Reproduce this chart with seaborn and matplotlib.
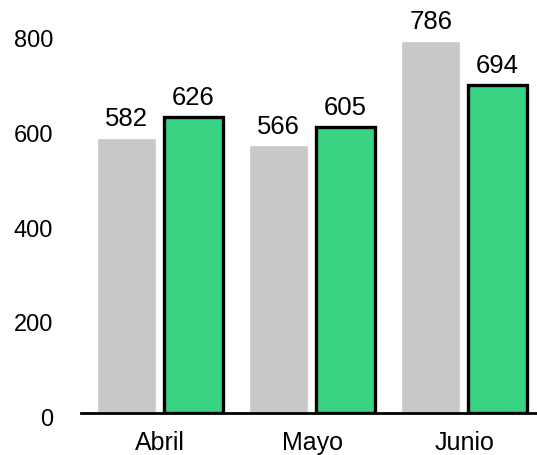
import matplotlib

matplotlib.use("Agg")
import matplotlib.pyplot as plt
import matplotlib.transforms as mtransforms
import pandas as pd
import seaborn as sns

meses = ["Abril", "Mayo", "Junio"]
series = ["Anterior", "Actual"]
valores_anterior = [582, 566, 786]
valores_actual = [626, 605, 694]
colores = ["#C8C8C8", "#38D483"]

df = pd.DataFrame(
    {
        "mes": meses * 2,
        "serie": [series[0]] * 3 + [series[1]] * 3,
        "valor": valores_anterior + valores_actual,
    }
)

sns.set_style("white")
plt.rcParams["font.family"] = ["Liberation Sans", "DejaVu Sans"]
plt.rcParams["text.color"] = "black"
plt.rcParams["xtick.color"] = "black"
plt.rcParams["ytick.color"] = "black"

fig = plt.figure(figsize=(5.37, 4.56), dpi=100)
ax = fig.add_axes([0.1508, 0.0921, 0.8473, 0.9079])

sns.barplot(
    data=df,
    x="mes",
    y="valor",
    hue="serie",
    palette=colores,
    saturation=1,
    width=0.876,
    gap=0.114,
    legend=False,
    ax=ax,
)

# solo la serie actual lleva borde negro
for bar in ax.containers[1]:
    bar.set_edgecolor("black")
    bar.set_linewidth(2.4)

for cont in ax.containers:
    ax.bar_label(cont, fmt="%d", padding=5.5, fontsize=18.5, color="black")

ax.set_xlim(-0.521, 2.473)
ax.set_ylim(0, 875)
ax.set_yticks([0, 200, 400, 600, 800])
ax.set_xlabel("")
ax.set_ylabel("")
ax.tick_params(axis="y", length=0, pad=20, labelsize=17)
ax.tick_params(axis="x", length=0, pad=12.5, labelsize=18)

# las etiquetas del eje y quedan algo por debajo de su marca
bajar = mtransforms.ScaledTranslation(0, -3.5 / 100, fig.dpi_scale_trans)
for lab in ax.get_yticklabels():
    lab.set_transform(lab.get_transform() + bajar)

for side in ["left", "right", "top"]:
    ax.spines[side].set_visible(False)
ax.spines["bottom"].set_color("black")
ax.spines["bottom"].set_linewidth(2)

fig.savefig("out.png", dpi=100)
